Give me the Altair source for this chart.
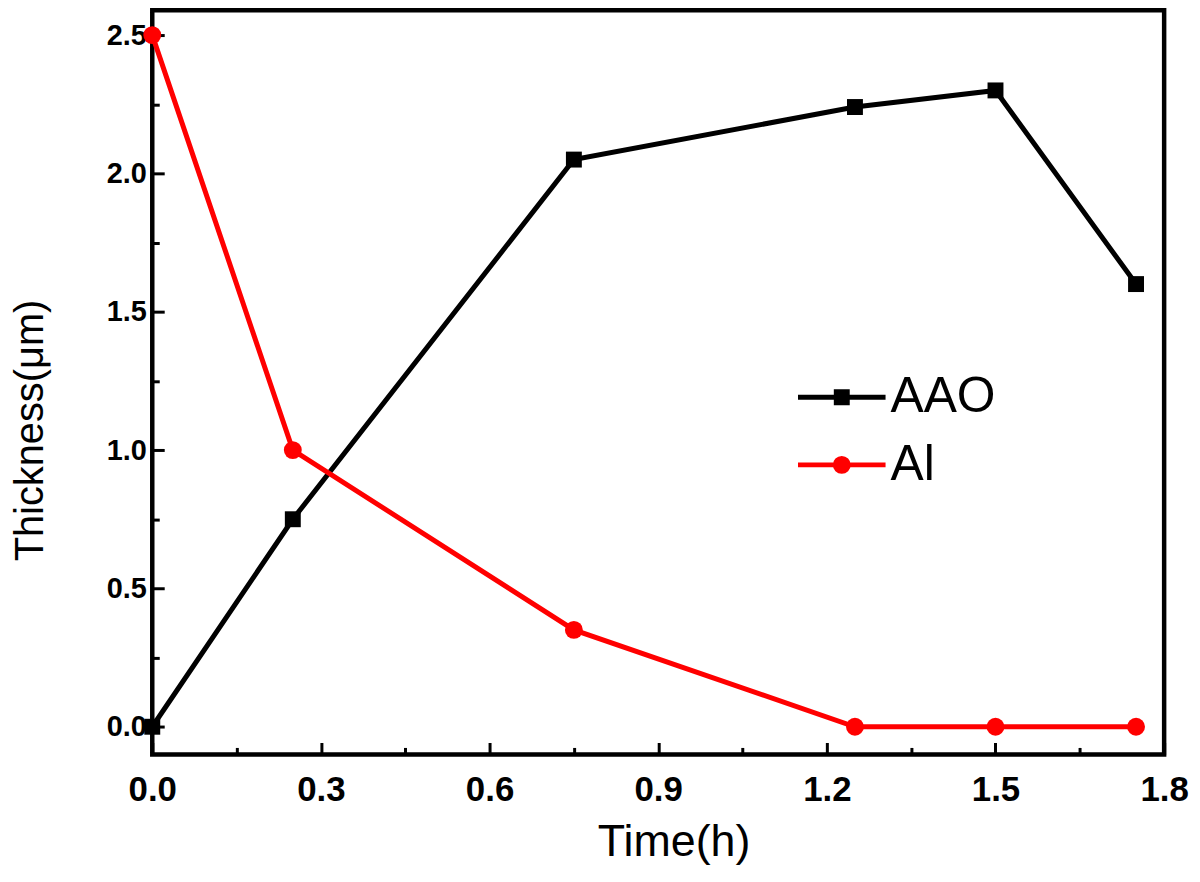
import altair as alt
import pandas as pd

# ---- data ----
time_h = [0.0, 0.25, 0.75, 1.25, 1.5, 1.75]
aao = [0.0, 0.75, 2.05, 2.24, 2.30, 1.60]
al = [2.5, 1.0, 0.35, 0.0, 0.0, 0.0]
series = ["AAO", "Al"]
colors = ["#000000", "#ff0000"]
shapes = ["square", "circle"]
sizes = [256, 324]
x_major = [0.0, 0.3, 0.6, 0.9, 1.2, 1.5, 1.8]
x_minor = [0.15, 0.45, 0.75, 1.05, 1.35, 1.65]
y_major = [0.0, 0.5, 1.0, 1.5, 2.0, 2.5]
y_minor = [0.25, 0.75, 1.25, 1.75, 2.25]

rows = []
for name, vals in zip(series, [aao, al]):
    for t, v in zip(time_h, vals):
        rows.append({"time": t, "thickness": v, "series": name})
df = pd.DataFrame(rows)

FONT = "Liberation Sans"

xscale = alt.Scale(domain=[0, 1.8], nice=False, zero=False)
yscale = alt.Scale(domain=[-0.1, 2.59], nice=False, zero=False)
cscale = alt.Scale(domain=series, range=colors)

# legend symbols (stroke only): a line segment with the series marker in its middle
legend_paths = [
    "M-2,0H2M-0.25,-0.25H0.25V0.25H-0.25ZM-0.25,-0.07H0.25M-0.25,0.07H0.25",
    "M-2,0H2M0.295,0A0.295,0.295,0,1,1,-0.295,0A0.295,0.295,0,1,1,0.295,0"
    "M0.091,0A0.091,0.091,0,1,1,-0.091,0A0.091,0.091,0,1,1,0.091,0",
]

legend = alt.Legend(
    title=None,
    orient="none",
    legendX=668,
    legendY=364,
    padding=0,
    symbolSize=1936,
    symbolStrokeWidth=5,
    symbolOpacity=1,
    labelFont=FONT,
    labelFontSize=50,
    labelColor="black",
    labelOffset=24,
    labelLimit=0,
    rowPadding=18,
)

x_main = alt.X(
    "time:Q",
    scale=xscale,
    axis=alt.Axis(
        orient="bottom",
        values=x_major,
        format=".1f",
        tickSize=12,
        offset=-12,
        tickWidth=3,
        tickColor="black",
        domain=False,
        grid=False,
        labelFont=FONT,
        labelFontSize=35,
        labelFontWeight="bold",
        labelColor="black",
        labelPadding=18,
        labelFlush=False,
        labelOverlap=False,
        labelBound=False,
        title="Time(h)",
        titleFont=FONT,
        titleFontSize=45,
        titleFontWeight="normal",
        titleColor="black",
        titleX=524,
        titleY=114,
        titleBaseline="alphabetic",
    ),
)
y_main = alt.Y(
    "thickness:Q",
    scale=yscale,
    axis=alt.Axis(
        orient="left",
        values=y_major,
        format=".1f",
        tickSize=12,
        offset=-12,
        tickWidth=3,
        tickColor="black",
        domain=False,
        grid=False,
        labelFont=FONT,
        labelFontSize=29,
        labelFontWeight="bold",
        labelColor="black",
        labelPadding=6,
        labelFlush=False,
        labelOverlap=False,
        labelBound=False,
        title="Thickness(\u03bcm)",
        titleFont=FONT,
        titleFontSize=40,
        titleFontWeight="normal",
        titleColor="black",
        titleX=-122,
        titleY=422,
        titleBaseline="alphabetic",
        titleAngle=270,
    ),
)

x_minor_enc = alt.X(
    "time:Q",
    scale=xscale,
    axis=alt.Axis(orient="bottom", values=x_minor, tickSize=7, offset=-7, tickWidth=3,
                  tickColor="black", domain=False, grid=False, labels=False, title=None),
)
y_minor_enc = alt.Y(
    "thickness:Q",
    scale=yscale,
    axis=alt.Axis(orient="left", values=y_minor, tickSize=7, offset=-7, tickWidth=3,
                  tickColor="black", domain=False, grid=False, labels=False, title=None),
)

lines = alt.Chart(df).mark_line(strokeWidth=5).encode(
    x=x_main,
    y=y_main,
    color=alt.Color("series:N", scale=cscale, legend=None),
    detail="series:N",
    order="time:Q",
)

points = alt.Chart(df).mark_point(filled=True, opacity=1).encode(
    x=x_minor_enc,
    y=y_minor_enc,
    color=alt.Color("series:N", scale=cscale, legend=None),
    shape=alt.Shape("series:N", scale=alt.Scale(domain=series, range=shapes), legend=None),
    size=alt.Size("series:N", scale=alt.Scale(domain=series, range=sizes), legend=None),
)

# legend-only layer (no rows drawn): its scales give the legend entries
legend_layer = alt.Chart(df).transform_filter("false").mark_point(
    filled=False, opacity=1, strokeWidth=5
).encode(
    color=alt.Color("series:N", scale=alt.Scale(domain=series, range=colors), legend=legend),
    shape=alt.Shape("series:N", scale=alt.Scale(domain=series, range=legend_paths), legend=legend),
)

chart = (
    alt.layer(lines, points, legend_layer)
    .resolve_axis(x="independent", y="independent")
    .resolve_scale(color="independent", shape="independent")
    .properties(
        width=1017,
        height=748,
        autosize=alt.AutoSizeParams(type="none"),
        padding={"left": 145, "top": 0, "right": 28, "bottom": 118},
        background="white",
    )
    .configure_view(stroke="black", strokeWidth=4.5)
)

chart.save("out.html", embed_options={"renderer": "svg", "actions": False})
